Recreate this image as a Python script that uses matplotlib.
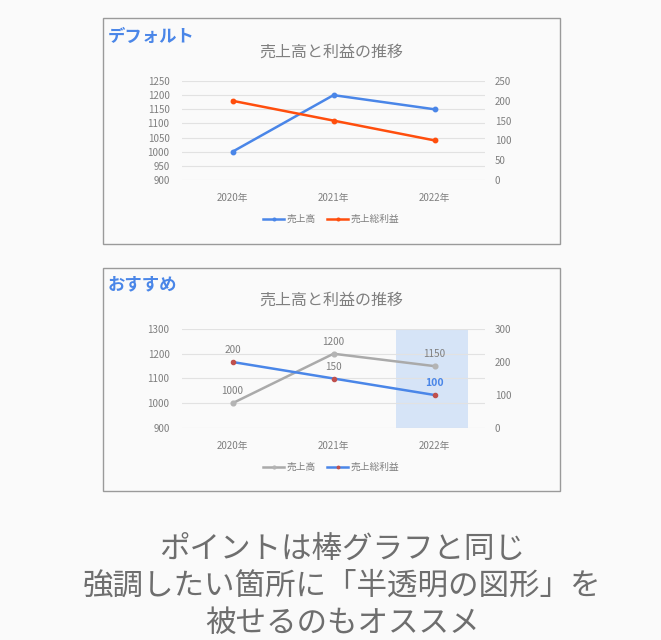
import matplotlib
matplotlib.use("Agg")
import matplotlib.pyplot as plt
from matplotlib.patches import Rectangle

plt.rcParams['font.family'] = ['Noto Sans CJK JP', 'DejaVu Sans']

years = ["2020年", "2021年", "2022年"]
sales = [1000, 1200, 1150]
profit = [200, 150, 100]
series_names = ["売上高", "売上総利益"]
chart_title = "売上高と利益の推移"
panel_labels = ["デフォルト", "おすすめ"]
top_left_ticks = [900, 950, 1000, 1050, 1100, 1150, 1200, 1250]
top_right_ticks = [0, 50, 100, 150, 200, 250]
bot_left_ticks = [900, 1000, 1100, 1200, 1300]
bot_right_ticks = [0, 100, 200, 300]
highlight_index = 2
caption = "ポイントは棒グラフと同じ\n強調したい箇所に「半透明の図形」を\n被せるのもオススメ"

W, H = 661, 640
BG = "#fafafa"
TXT = "#7f7f7f"
GRID = "#e2e2e2"
fig = plt.figure(figsize=(W / 100, H / 100), dpi=100, facecolor=BG)


def fx(px):
    return px / W


def fy(py):
    return 1 - py / H


def panel(x0, y0, x1, y1):
    fig.patches.append(Rectangle((fx(x0), fy(y1)), fx(x1 - x0), (y1 - y0) / H,
                                 transform=fig.transFigure, facecolor=BG,
                                 edgecolor="#9a9a9a", linewidth=1.0, zorder=-5))


def make_axes(top, bottom, lticks, rticks):
    ax = fig.add_axes([fx(182), fy(bottom), fx(485 - 182), (bottom - top) / H])
    ax.set_facecolor("none")
    ax2 = ax.twinx()
    x = list(range(len(years)))
    ax.set_xlim(-0.5, len(years) - 0.5)
    ax.set_ylim(lticks[0], lticks[-1])
    ax2.set_ylim(rticks[0], rticks[-1])
    ax.set_yticks(lticks)
    ax2.set_yticks(rticks)
    ax.set_xticks(x)
    ax.set_xticklabels(years)
    for a in (ax, ax2):
        for s in a.spines.values():
            s.set_visible(False)
        a.tick_params(length=0, labelsize=7, labelcolor=TXT)
    ax.tick_params(axis='y', pad=9)
    ax2.tick_params(axis='y', pad=7)
    ax.tick_params(axis='x', pad=9, labelsize=7)
    ax.yaxis.grid(True, color=GRID, linewidth=0.8)
    ax.set_axisbelow(True)
    return ax, ax2, x


# ---------- top panel ----------
panel(103, 18, 560, 244)
fig.text(fx(108), fy(37), panel_labels[0], color="#4a86e8", fontsize=12.5,
         fontweight="bold", va="center", ha="left")
fig.text(fx(331), fy(52), chart_title, color=TXT, fontsize=11.5, ha="center", va="center")
ax, ax2, x = make_axes(81, 180, top_left_ticks, top_right_ticks)
l1, = ax.plot(x, sales, color="#4a86e8", lw=1.8, marker="o", ms=3.2, label=series_names[0])
l2, = ax2.plot(x, profit, color="#ff4e0d", lw=1.8, marker="o", ms=3.2, label=series_names[1])
fig.legend([l1, l2], series_names, loc="center", bbox_to_anchor=(fx(331), fy(219)),
           ncol=2, frameon=False, fontsize=7, labelcolor=TXT, handlelength=2.2,
           handletextpad=0.2, columnspacing=1.2, markerscale=0.6)

# ---------- bottom panel ----------
panel(103, 268, 560, 491)
fig.text(fx(108), fy(284), panel_labels[1], color="#4a86e8", fontsize=12.5,
         fontweight="bold", va="center", ha="left")
fig.text(fx(331), fy(300), chart_title, color=TXT, fontsize=11.5, ha="center", va="center")
bx, bx2, x = make_axes(329, 428, bot_left_ticks, bot_right_ticks)
bx.add_patch(Rectangle((highlight_index - 0.38, bot_left_ticks[0]), 0.71,
                       bot_left_ticks[-1] - bot_left_ticks[0],
                       facecolor="#d6e4f7", edgecolor="none", zorder=0.5))
m1, = bx.plot(x, sales, color="#aaaaaa", lw=1.8, marker="o", ms=3.4,
              markerfacecolor="#b4b4b4", markeredgecolor="#b4b4b4", label=series_names[0], zorder=3)
m2, = bx2.plot(x, profit, color="#4a86e8", lw=1.8, marker="o", ms=3.0,
               markerfacecolor="#c0504d", markeredgecolor="#c0504d", label=series_names[1], zorder=3)
for xi, v in zip(x, sales):
    bx.annotate(str(v), (xi, v), xytext=(0, 5), textcoords="offset points",
                ha="center", va="bottom", fontsize=7.2, color=TXT)
for xi, v in zip(x, profit):
    hl = xi == highlight_index
    bx2.annotate(str(v), (xi, v), xytext=(0, 5), textcoords="offset points",
                 ha="center", va="bottom", fontsize=7.5 if hl else 7.2,
                 color="#4a86e8" if hl else TXT, fontweight="bold" if hl else "normal")
fig.legend([m1, m2], series_names, loc="center", bbox_to_anchor=(fx(331), fy(467)),
           ncol=2, frameon=False, fontsize=7, labelcolor=TXT, handlelength=2.2,
           handletextpad=0.2, columnspacing=1.2, markerscale=0.6)

# ---------- caption ----------
fig.text(fx(342), fy(586), caption, ha="center", va="center", fontsize=22,
         color="#6e6e6e", linespacing=1.25)

fig.savefig("out.png", dpi=100, facecolor=BG)
